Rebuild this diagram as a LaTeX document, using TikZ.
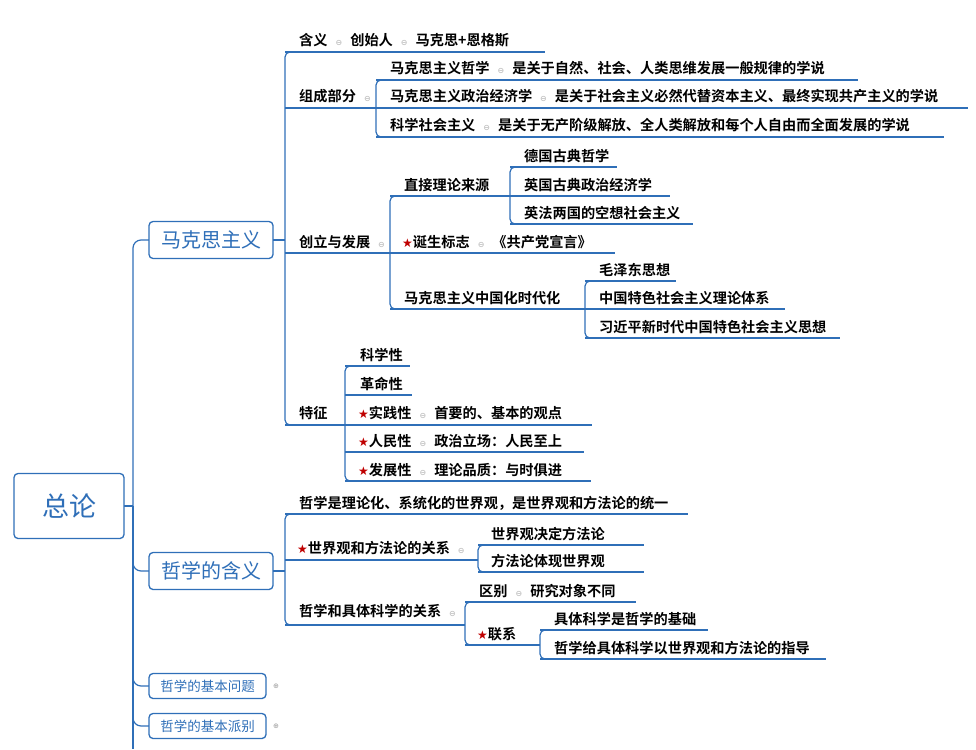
\documentclass[tikz,border=0pt]{standalone}
\usepackage{fontspec}
\setmainfont{Noto Sans CJK SC}[BoldFont={* Bold}]
\newfontfamily\dv{DejaVu Sans}
\begin{document}
\begin{tikzpicture}[x=1pt,y=-1pt,
 ln/.style={draw=lblue,line width=1.2pt},
 tx/.style={anchor=base west,inner sep=0pt,font=\fontsize{14.2}{16}\selectfont\bfseries},
 bx/.style={draw=lblue,line width=1.3pt,rounded corners=4pt,fill=white,text=lblue,inner sep=0pt}]
\definecolor{lblue}{HTML}{2F6FB8}
\newcommand\mn{\hspace{8pt}{\dv\color{black!25}\fontsize{8}{8}\selectfont ⊖}\hspace{8pt}}
\newcommand\st{{\dv\color{red!75!black}\fontsize{12}{12}\selectfont ★}}
\newcommand\brk[3]{\draw[ln,rounded corners=5pt] (#1+10,#2) -- (#1,#2) -- (#1,#3) -- (#1+10,#3);}
\newcommand\ul[3]{\draw[ln] (#1,#3) -- (#2,#3);}
\newcommand\tn[4]{\node[tx] (#1) at (#2,#3) {#4};}
\useasboundingbox (0,0) rectangle (976,749);
% root
\draw[ln,rounded corners=6pt] (124,506) -- (133,506);
\draw[ln] (133,506) -- (133,749);
\draw[ln,rounded corners=8pt] (149,240) -- (133,240) -- (133,510);
\draw[ln,rounded corners=8pt] (149,571) -- (133,571) -- (133,520);
\draw[ln,rounded corners=8pt] (149,686) -- (133,686) -- (133,660);
\draw[ln,rounded corners=8pt] (149,726) -- (133,726) -- (133,700);
\node[bx,minimum width=110pt,minimum height=65pt,font=\fontsize{27}{28}\selectfont] (root) at (69,506) {总论};
\node[bx,minimum width=124pt,minimum height=37pt,font=\fontsize{20}{22}\selectfont] (mk) at (211,240) {马克思主义};
\node[bx,minimum width=124pt,minimum height=37pt,font=\fontsize{20}{22}\selectfont] (zx) at (211,571) {哲学的含义};
\node[bx,minimum width=117pt,minimum height=25pt,font=\fontsize{13.5}{15}\selectfont] (jb) at (207.5,686) {哲学的基本问题};
\node[bx,minimum width=117pt,minimum height=25pt,font=\fontsize{13.5}{15}\selectfont] (pb) at (207.5,726) {哲学的基本派别};
\node[font=\dv\fontsize{7}{7}\selectfont,text=black!40] (p1) at (276,686) {⊕};
\node[font=\dv\fontsize{7}{7}\selectfont,text=black!40] (p2) at (276,726) {⊕};
% 马克思主义 children
\draw[ln] (273,240) -- (285,240);
\brk{285}{52}{425}
\ul{285}{545}{52} \tn{a1}{299}{46}{含义\mn 创始人\mn 马克思+恩格斯}
\ul{285}{376}{108} \tn{a2}{299}{102}{组成部分\mn}
\brk{376}{80}{137}
\ul{376}{858}{80} \tn{b1}{390}{74}{马克思主义哲学\mn 是关于自然、社会、人类思维发展一般规律的学说}
\ul{376}{968}{108} \tn{b2}{390}{102}{马克思主义政治经济学\mn 是关于社会主义必然代替资本主义、最终实现共产主义的学说}
\ul{376}{944}{137} \tn{b3}{390}{131}{科学社会主义\mn 是关于无产阶级解放、全人类解放和每个人自由而全面发展的学说}
\ul{285}{390}{253} \tn{a3}{299}{247}{创立与发展\mn}
\brk{390}{196}{309}
\ul{390}{510}{196} \tn{c1}{404}{190}{直接理论来源}
\brk{510}{167}{224}
\ul{510}{617}{167} \tn{d1}{524}{161}{德国古典哲学}
\ul{510}{670}{196} \tn{d2}{524}{190}{英国古典政治经济学}
\ul{510}{693}{224} \tn{d3}{524}{218}{英法两国的空想社会主义}
\ul{390}{615}{253} \tn{c2}{402}{247}{\st 诞生标志\mn 《共产党宣言》}
\ul{390}{585}{309} \tn{c3}{404}{303}{马克思主义中国化时代化}
\brk{585}{281}{338}
\ul{585}{676}{281} \tn{e1}{599}{275}{毛泽东思想}
\ul{585}{785}{309} \tn{e2}{599}{303}{中国特色社会主义理论体系}
\ul{585}{840}{338} \tn{e3}{599}{332}{习近平新时代中国特色社会主义思想}
\ul{285}{345}{425} \tn{a4}{299}{418}{特征}
\brk{345}{366}{481}
\ul{345}{410}{366} \tn{f1}{360}{360}{科学性}
\ul{345}{412}{395} \tn{f2}{360}{389}{革命性}
\ul{345}{592}{425} \tn{f3}{358}{418}{\st 实践性\mn 首要的、基本的观点}
\ul{345}{584}{452} \tn{f4}{358}{446}{\st 人民性\mn 政治立场：人民至上}
\ul{345}{591}{481} \tn{f5}{358}{475}{\st 发展性\mn 理论品质：与时俱进}
% 哲学的含义 children
\draw[ln] (273,571) -- (285,571);
\brk{285}{514}{625}
\ul{285}{688}{514} \tn{g1}{299}{508}{哲学是理论化、系统化的世界观，是世界观和方法论的统一}
\ul{285}{478}{560} \tn{g2}{297}{553}{\st 世界观和方法论的关系\mn}
\brk{478}{545}{572}
\ul{478}{644}{545} \tn{h1}{491}{539}{世界观决定方法论}
\ul{478}{644}{572} \tn{h2}{491}{566}{方法论体现世界观}
\ul{285}{465}{625} \tn{g3}{299}{616}{哲学和具体科学的关系\mn}
\brk{465}{602}{645}
\ul{465}{636}{602} \tn{i1}{479}{596}{区别\mn 研究对象不同}
\ul{465}{540}{645} \tn{i2}{477}{639}{\st 联系}
\brk{540}{630}{659}
\ul{540}{708}{630} \tn{j1}{554}{624}{具体科学是哲学的基础}
\ul{540}{826}{659} \tn{j2}{554}{653}{哲学给具体科学以世界观和方法论的指导}
\end{tikzpicture}
\end{document}
